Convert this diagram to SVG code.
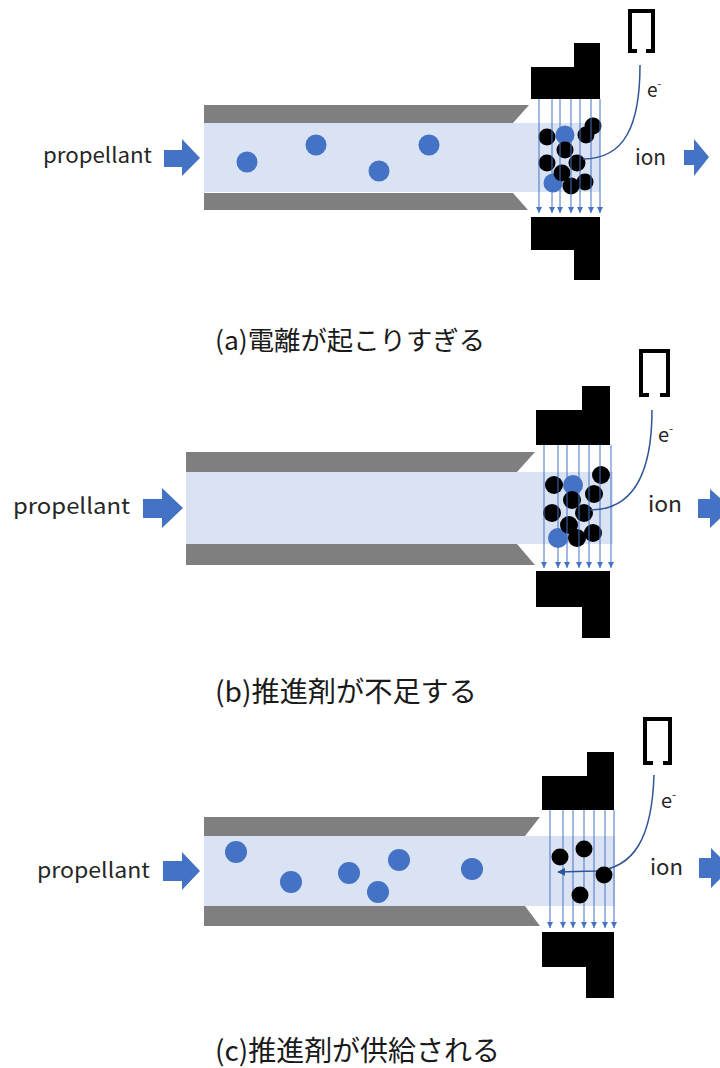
<svg xmlns="http://www.w3.org/2000/svg" width="720" height="1068" viewBox="0 0 720 1068">
  <defs>
    <style>
      .wall { fill: #7f7f7f; }
      .plasma { fill: #dae3f3; }
      .elec { fill: #000000; }
      .neutral { fill: #4472c4; }
      .ion { fill: #000000; }
      .flow { fill: #4472c4; }
      .field { stroke: #4472c4; stroke-width: 1; fill: none; marker-end: url(#fieldHead); }
      .electron { stroke: #2f5597; stroke-width: 1.5; fill: none; }
      .cathode { stroke: #000000; stroke-width: 4; fill: none; }
      .lbl { font-family: "Noto Sans CJK JP", "Noto Sans", sans-serif; fill: #262626; }
      .cap { font-family: "Noto Sans CJK JP", sans-serif; fill: #1a1a1a; }
    </style>
    <marker id="fieldHead" viewBox="0 0 10 10" refX="10" refY="5" markerWidth="6" markerHeight="6" orient="auto" markerUnits="userSpaceOnUse">
      <path d="M0,0 L10,5 L0,10 Z" fill="#4472c4"/>
    </marker>
    <marker id="eHead" viewBox="0 0 10 10" refX="9" refY="5" markerWidth="8" markerHeight="8" orient="auto" markerUnits="userSpaceOnUse">
      <path d="M0,0 L10,5 L0,10 Z" fill="#2f5597"/>
    </marker>
  </defs>

  <!-- (a) too much ionisation -->
  <g id="panel-a">
    <g id="a-channel">
      <rect class="plasma" x="204" y="123" width="396" height="69"/>
      <polygon class="wall" points="204,105 529,105 513,123 204,123"/>
      <polygon class="wall" points="204,193 513,193 528,210 204,210"/>
    </g>
    <g id="a-electrodes">
      <polygon class="elec" points="531,67 574,67 574,43 600,43 600,99 531,99"/>
      <polygon class="elec" points="531,217 600,217 600,280 574,280 574,250 531,250"/>
    </g>
    <g id="a-cathode">
      <path class="cathode" d="M637,51 L630,51 L630,11 L653,11 L653,51 L646,51"/>
    </g>
    <g id="a-particles">
      <circle class="neutral" cx="247" cy="162" r="10.5"/>
      <circle class="neutral" cx="316" cy="145" r="10.5"/>
      <circle class="neutral" cx="429" cy="145" r="10.5"/>
      <circle class="neutral" cx="379" cy="171" r="10.5"/>
      <circle class="neutral" cx="565" cy="135" r="9.5"/>
      <circle class="neutral" cx="553" cy="183" r="9.5"/>
      <circle class="ion" cx="547" cy="137" r="8.5"/>
      <circle class="ion" cx="593" cy="126" r="8.5"/>
      <circle class="ion" cx="565" cy="150" r="8.5"/>
      <circle class="ion" cx="586" cy="135" r="8.5"/>
      <circle class="ion" cx="547" cy="163" r="8.5"/>
      <circle class="ion" cx="577" cy="163" r="8.5"/>
      <circle class="ion" cx="562" cy="173" r="8.5"/>
      <circle class="ion" cx="585" cy="182" r="8.5"/>
      <circle class="ion" cx="571" cy="186" r="8.5"/>
    </g>
    <g id="a-connectors">
      <line class="field" x1="539" y1="99" x2="539" y2="213"/>
      <line class="field" x1="552" y1="99" x2="552" y2="213"/>
      <line class="field" x1="560" y1="99" x2="560" y2="213"/>
      <line class="field" x1="571" y1="99" x2="571" y2="213"/>
      <line class="field" x1="580" y1="99" x2="580" y2="213"/>
      <line class="field" x1="591" y1="99" x2="591" y2="213"/>
      <line class="field" x1="600" y1="99" x2="600" y2="213"/>
      <path class="electron" d="M640,65 C640,125 625,159 583,159"/>
      <polygon class="flow" points="164,150 182,150 182,139 200,158 182,176 182,167 164,167"/>
      <polygon class="flow" points="684,150 694,150 694,139 709,157 694,176 694,165 684,165"/>
    </g>
    <g id="a-labels">
      <text class="lbl" x="43" y="163" font-size="21" textLength="109" lengthAdjust="spacingAndGlyphs">propellant</text>
      <text class="lbl" x="635" y="165" font-size="21" textLength="31" lengthAdjust="spacingAndGlyphs">ion</text>
      <text class="lbl" x="647" y="97" font-size="19">e<tspan font-size="11" dy="-9">-</tspan></text>
      <text class="cap" x="215" y="350" font-size="26" textLength="270" lengthAdjust="spacingAndGlyphs">(a)電離が起こりすぎる</text>
    </g>
  </g>

  <!-- (b) propellant shortage -->
  <g id="panel-b">
    <g id="b-channel">
      <rect class="plasma" x="186" y="472" width="427" height="72"/>
      <polygon class="wall" points="186,452 535,452 517,472 186,472"/>
      <polygon class="wall" points="186,544 517,544 535,565 186,565"/>
    </g>
    <g id="b-electrodes">
      <polygon class="elec" points="536,410 582,410 582,386 610,386 610,445 536,445"/>
      <polygon class="elec" points="536,571 610,571 610,638 582,638 582,607 536,607"/>
    </g>
    <g id="b-cathode">
      <path class="cathode" d="M649,395 L641,395 L641,351 L668,351 L668,395 L660,395"/>
    </g>
    <g id="b-particles">
      <circle class="neutral" cx="573" cy="485" r="10"/>
      <circle class="neutral" cx="558" cy="538" r="10"/>
      <circle class="ion" cx="554" cy="485" r="9"/>
      <circle class="ion" cx="601" cy="475" r="9"/>
      <circle class="ion" cx="572" cy="500" r="9"/>
      <circle class="ion" cx="594" cy="494" r="9"/>
      <circle class="ion" cx="552" cy="513" r="9"/>
      <circle class="ion" cx="584" cy="513" r="9"/>
      <circle class="ion" cx="569" cy="525" r="9"/>
      <circle class="ion" cx="593" cy="533" r="9"/>
      <circle class="ion" cx="577" cy="538" r="9"/>
    </g>
    <g id="b-connectors">
      <line class="field" x1="544" y1="445" x2="544" y2="568"/>
      <line class="field" x1="558" y1="445" x2="558" y2="568"/>
      <line class="field" x1="567" y1="445" x2="567" y2="568"/>
      <line class="field" x1="579" y1="445" x2="579" y2="568"/>
      <line class="field" x1="589" y1="445" x2="589" y2="568"/>
      <line class="field" x1="600" y1="445" x2="600" y2="568"/>
      <line class="field" x1="611" y1="445" x2="611" y2="568"/>
      <path class="electron" d="M652,410 C652,475 632,510 590,510"/>
      <polygon class="flow" points="143,499 162,499 162,488 183,508 162,528 162,518 143,518"/>
      <polygon class="flow" points="698,499 710,499 710,489 731,508 710,528 710,518 698,518"/>
    </g>
    <g id="b-labels">
      <text class="lbl" x="13" y="514" font-size="22" textLength="117" lengthAdjust="spacingAndGlyphs">propellant</text>
      <text class="lbl" x="648" y="512" font-size="22" textLength="34" lengthAdjust="spacingAndGlyphs">ion</text>
      <text class="lbl" x="658" y="442" font-size="20">e<tspan font-size="12" dy="-9">-</tspan></text>
      <text class="cap" x="215" y="702" font-size="28" textLength="262" lengthAdjust="spacingAndGlyphs">(b)推進剤が不足する</text>
    </g>
  </g>

  <!-- (c) propellant supplied -->
  <g id="panel-c">
    <g id="c-channel">
      <rect class="plasma" x="204" y="836" width="411" height="70"/>
      <polygon class="wall" points="204,817 540,817 525,836 204,836"/>
      <polygon class="wall" points="204,906 525,906 540,926 204,926"/>
    </g>
    <g id="c-electrodes">
      <polygon class="elec" points="542,776 587,776 587,752 614,752 614,810 542,810"/>
      <polygon class="elec" points="542,932 614,932 614,998 586,998 586,967 542,967"/>
    </g>
    <g id="c-cathode">
      <path class="cathode" d="M653,763 L645,763 L645,719 L670,719 L670,763 L663,763"/>
    </g>
    <g id="c-particles">
      <circle class="neutral" cx="236" cy="852" r="11"/>
      <circle class="neutral" cx="291" cy="882" r="11"/>
      <circle class="neutral" cx="349" cy="873" r="11"/>
      <circle class="neutral" cx="399" cy="860" r="11"/>
      <circle class="neutral" cx="378" cy="892" r="11"/>
      <circle class="neutral" cx="472" cy="869" r="11"/>
    </g>
    <g id="c-connectors">
      <line class="field" x1="550" y1="810" x2="550" y2="928"/>
      <line class="field" x1="563" y1="810" x2="563" y2="928"/>
      <line class="field" x1="573" y1="810" x2="573" y2="928"/>
      <line class="field" x1="584" y1="810" x2="584" y2="928"/>
      <line class="field" x1="594" y1="810" x2="594" y2="928"/>
      <line class="field" x1="605" y1="810" x2="605" y2="928"/>
      <line class="field" x1="614" y1="810" x2="614" y2="928"/>
      <path class="electron" marker-end="url(#eHead)" d="M654,775 C652,838 634,868 596,871 L558,872"/>
      <polygon class="flow" points="163,861 182,861 182,852 200,871 182,890 182,881 163,881"/>
      <polygon class="flow" points="699,858 711,858 711,848 731,868 711,888 711,878 699,878"/>
    </g>
    <g id="c-ions">
      <circle class="ion" cx="560" cy="857" r="8.5"/>
      <circle class="ion" cx="584" cy="849" r="8.5"/>
      <circle class="ion" cx="604" cy="875" r="8.5"/>
      <circle class="ion" cx="580" cy="895" r="8.5"/>
    </g>
    <g id="c-labels">
      <text class="lbl" x="37" y="878" font-size="21" textLength="113" lengthAdjust="spacingAndGlyphs">propellant</text>
      <text class="lbl" x="650" y="875" font-size="22" textLength="33" lengthAdjust="spacingAndGlyphs">ion</text>
      <text class="lbl" x="661" y="808" font-size="20">e<tspan font-size="12" dy="-9">-</tspan></text>
      <text class="cap" x="215" y="1061" font-size="28" textLength="285" lengthAdjust="spacingAndGlyphs">(c)推進剤が供給される</text>
    </g>
  </g>
</svg>
